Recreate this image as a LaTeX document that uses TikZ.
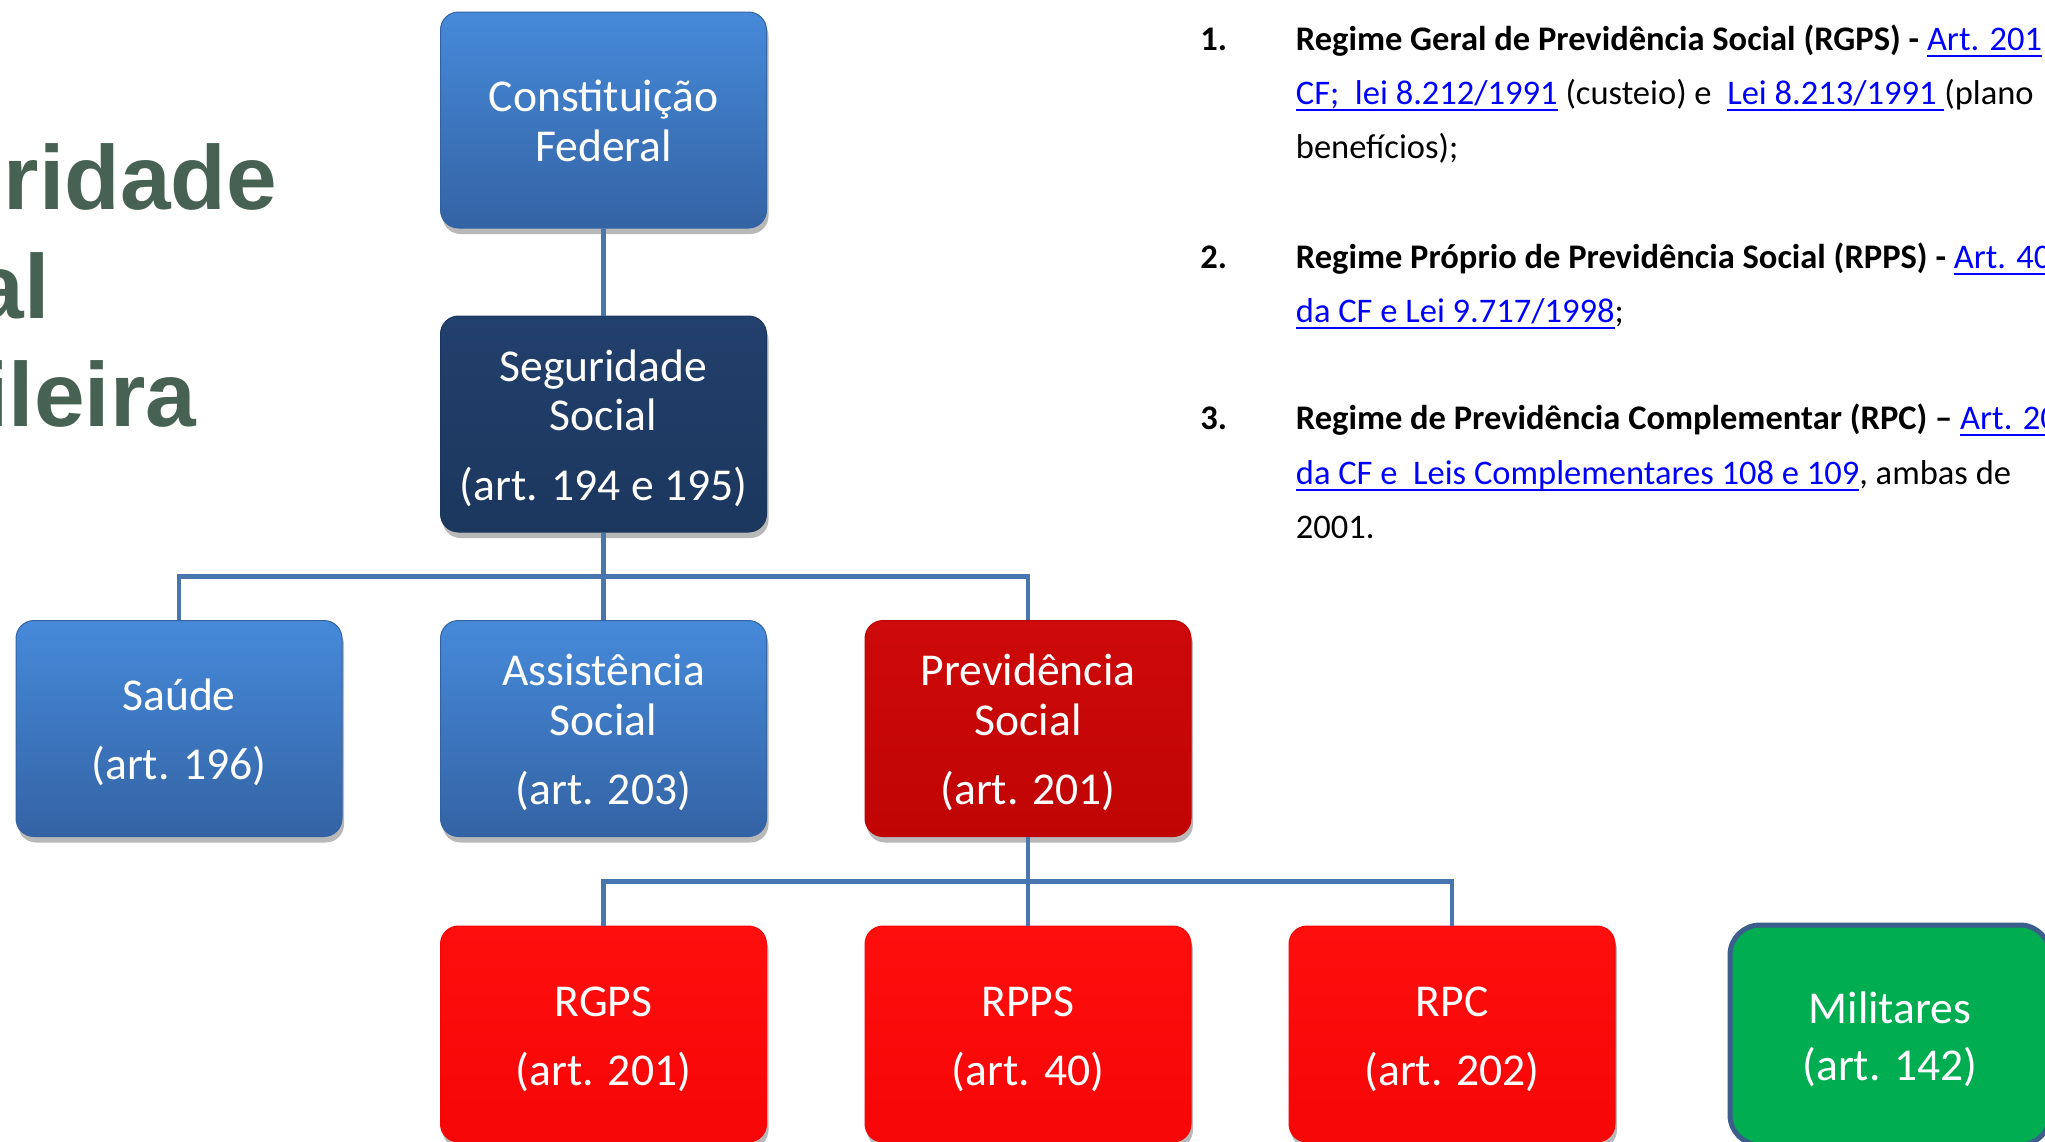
\documentclass[tikz,border=0pt]{standalone}
\usepackage{fontspec}
\setmainfont{Carlito}
\newfontfamily\titlefont{Liberation Sans}
\usetikzlibrary{shadows}
\definecolor{blueTop}{RGB}{70,138,218}
\definecolor{blueBot}{RGB}{52,99,164}
\definecolor{navyTop}{RGB}{34,64,108}
\definecolor{navyBot}{RGB}{28,55,94}
\definecolor{dredTop}{RGB}{206,10,10}
\definecolor{dredBot}{RGB}{192,4,4}
\definecolor{bredTop}{RGB}{255,14,14}
\definecolor{bredBot}{RGB}{246,6,6}
\definecolor{milGreen}{RGB}{0,173,80}
\definecolor{milBorder}{RGB}{60,94,140}
\definecolor{connBlue}{RGB}{74,118,176}
\definecolor{titleGreen}{RGB}{71,98,83}
\definecolor{linkblue}{RGB}{0,0,255}
\newcommand\lnk[1]{\textcolor{linkblue}{\setbox0=\hbox{#1}\rlap{\rule[-3.3pt]{\wd0}{0.9pt}}\box0}}
\newcommand\boxfont{\fontsize{22.8}{24.8}\selectfont}
\newcommand\fst{\rule{0pt}{24.7pt}}
\newcommand\lst{\rule[-8pt]{0pt}{0pt}}
\begin{document}
\begin{tikzpicture}[x=0.5pt,y=-0.5pt,
  box/.style={rounded corners=9pt, minimum width=163pt, minimum height=108pt,
    inner sep=0pt, align=center, text=white, font=\boxfont,
    drop shadow={shadow xshift=1pt, shadow yshift=-3pt, opacity=0.28, fill=black}},
  bluebox/.style={box, top color=blueTop, bottom color=blueBot, draw=blueBot, line width=0.5pt},
  navybox/.style={box, top color=navyTop, bottom color=navyBot, draw=navyBot, line width=0.5pt},
  dredbox/.style={box, top color=dredTop, bottom color=dredBot, draw=dredBot, line width=0.5pt},
  bredbox/.style={box, top color=bredTop, bottom color=bredBot, draw=bredBot, line width=0.5pt},
  milbox/.style={rounded corners=15pt, minimum width=160pt, minimum height=110pt,
    inner sep=0pt, align=center, text=white, font=\boxfont,
    fill=milGreen, draw=milBorder, line width=2.5pt},
  conn/.style={draw=connBlue, line width=2.4pt},
  titletxt/.style={anchor=base west, inner sep=0pt, text=titleGreen,
    font=\titlefont\bfseries\fontsize{45.5}{54}\selectfont},
  numtxt/.style={anchor=base west, inner sep=0pt, font=\fontsize{17.25}{20}\selectfont\bfseries},
  linetxt/.style={anchor=base west, inner sep=0pt, font=\fontsize{17.25}{20}\selectfont}
]
\useasboundingbox (0,0) rectangle (2045,1141);
\clip (0,0) rectangle (2045,1141);
\fill[white] (0,0) rectangle (2045,1141);

% title (cut at left)
\node[titletxt] (t1) at (-219,209) {Seguridade};
\node[titletxt] (t2) at (-219,318) {Social};
\node[titletxt] (t3) at (-219,426) {Brasileira};

% boxes
\node[bluebox] (cf) at (603.5,120) {\fst Constituição\\Federal\lst};
\node[navybox] (seg) at (603.5,424) {\fst Seguridade\\Social\\[9.75pt](art. 194 e 195)\lst};
\node[bluebox] (saude) at (179,728.5) {\fst Saúde\\[9.75pt](art. 196)\lst};
\node[bluebox] (ass) at (603.5,728.5) {\fst Assistência\\Social\\[9.75pt](art. 203)\lst};
\node[dredbox] (prev) at (1028,728.5) {\fst Previdência\\Social\\[9.75pt](art. 201)\lst};
\node[bredbox] (rgps) at (603.5,1034) {\fst RGPS\\[9.75pt](art. 201)\lst};
\node[bredbox] (rpps) at (1028,1034) {\fst RPPS\\[9.75pt](art. 40)\lst};
\node[bredbox] (rpc) at (1452,1034) {\fst RPC\\[9.75pt](art. 202)\lst};
\node[milbox] (mil) at (1890,1035) {\fst Militares\\[3.5pt](art. 142)\lst};

% connectors
\coordinate (b1) at (603.5,576.5);
\coordinate (b2) at (1028,881.5);
\draw[conn] (cf.south) -- (seg.north);
\draw[conn] (seg.south) -- (ass.north);
\draw[conn] (saude.north) |- (b1) -| (prev.north);
\draw[conn] (prev.south) -- (rpps.north);
\draw[conn] (rgps.north) |- (b2) -| (rpc.north);

% right text
\node[numtxt] (n1) at (1200,50) {1.};
\node[linetxt] (l1a) at (1295.5,50) {\textbf{Regime Geral de Previdência Social (RGPS) -} \lnk{Art. 201}};
\node[linetxt] (l1b) at (1295.5,104.3) {\lnk{CF;\ \ lei 8.212/1991} (custeio) e\ \ \lnk{Lei 8.213/1991\ }(plano};
\node[linetxt] (l1c) at (1295.5,158.6) {benefícios);};
\node[numtxt] (n2) at (1200,268) {2.};
\node[linetxt] (l2a) at (1295.5,268) {\textbf{Regime Próprio de Previdência Social (RPPS) -} \lnk{Art. 40}};
\node[linetxt] (l2b) at (1295.5,322) {\lnk{da CF e Lei 9.717/1998};};
\node[numtxt] (n3) at (1200,429.5) {3.};
\node[linetxt] (l3a) at (1295.5,429.5) {\textbf{Regime de Previdência Complementar (RPC) –} \lnk{Art. 202}};
\node[linetxt] (l3b) at (1295.5,484) {\lnk{da CF e\ \ Leis Complementares 108 e 109}, ambas de};
\node[linetxt] (l3c) at (1295.5,538) {2001.};
\end{tikzpicture}
\end{document}
